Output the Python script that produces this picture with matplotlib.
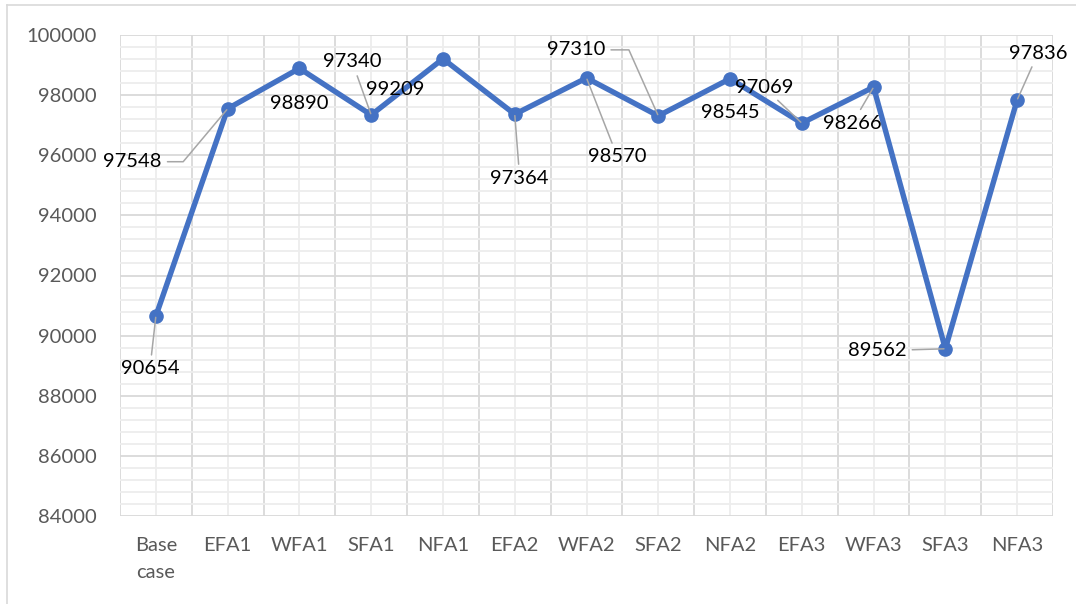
import numpy as np
import matplotlib
matplotlib.use('Agg')
import matplotlib.pyplot as plt
from matplotlib.lines import Line2D

plt.rcParams['font.family'] = ['Lato', 'DejaVu Sans']

scenarios = ['Base\ncase', 'EFA1', 'WFA1', 'SFA1', 'NFA1', 'EFA2', 'WFA2',
             'SFA2', 'NFA2', 'EFA3', 'WFA3', 'SFA3', 'NFA3']
valeurs = [90654, 97548, 98890, 97340, 99209, 97364, 98570,
           97310, 98545, 97069, 98266, 89562, 97836]
# decalage des etiquettes (pixels) et style de la ligne de rappel
decalages = [(-6, -53), (-95, -53), (0, -35), (-19, 53), (-48, -31), (5, -64),
             (31, -79), (-82, 66), (0, -34), (-38, 36), (-21, -36), (-68, -2),
             (21, 47)]
rappel = ['arc3', 'angle,angleA=0,angleB=50,rad=0', None, 'arc3', None, 'arc3',
          'arc3', 'angle,angleA=0,angleB=-66,rad=0', None, 'arc3', 'arc3',
          'arc3', 'arc3']

W, H = 1076, 604
fig = plt.figure(figsize=(W / 100, H / 100), dpi=100)
ax = fig.add_axes([120 / W, 1 - 516 / H, (1053 - 120) / W, (516 - 35) / H])

x = np.arange(len(scenarios))
ax.plot(x, valeurs, color='#4472C4', linewidth=3.9, marker='o',
        markersize=9.5, zorder=3, solid_joinstyle='round')

for xi, v, (dx, dy), r in zip(x, valeurs, decalages, rappel):
    props = None
    if r:
        props = dict(arrowstyle='-', color='#A6A6A6', lw=1.1,
                     shrinkA=2, shrinkB=1, connectionstyle=r)
    ax.annotate(f'{v}', xy=(xi, v), xytext=(dx, dy), textcoords='offset pixels',
                ha='center', va='center', fontsize=14.5, color='black',
                arrowprops=props, zorder=4)

ax.set_xlim(-0.5, len(scenarios) - 0.5)
ax.set_ylim(84000, 100000)
ax.set_xticks(x)
ax.set_xticklabels(scenarios, linespacing=1.7)
ax.set_xticks(np.arange(-0.5, len(scenarios), 1), minor=True)
ax.set_yticks(np.arange(84000, 100001, 2000))
ax.set_yticks(np.arange(84000, 100001, 400), minor=True)

ax.set_axisbelow(True)
ax.grid(which='major', axis='y', color='#D9D9D9', linewidth=1.3)
ax.grid(which='minor', axis='y', color='#EDEDED', linewidth=1.3)
ax.grid(which='minor', axis='x', color='#D9D9D9', linewidth=1.3)
ax.grid(which='major', axis='x', color='#EDEDED', linewidth=1.3)

ax.tick_params(which='both', length=0)
ax.tick_params(axis='y', pad=16.5, labelsize=14.5, labelcolor='#595959')
ax.tick_params(axis='x', pad=15, labelsize=14.5, labelcolor='#595959')
for sp in ax.spines.values():
    sp.set_visible(False)

# cadre du graphique
fig.add_artist(Line2D([7 / W, 7 / W], [0, 1 - 5 / H], color='#D9D9D9', lw=1.2))
fig.add_artist(Line2D([7 / W, 1], [1 - 5 / H, 1 - 5 / H], color='#D9D9D9', lw=1.2))

fig.savefig('out.png', dpi=100, facecolor='white')
